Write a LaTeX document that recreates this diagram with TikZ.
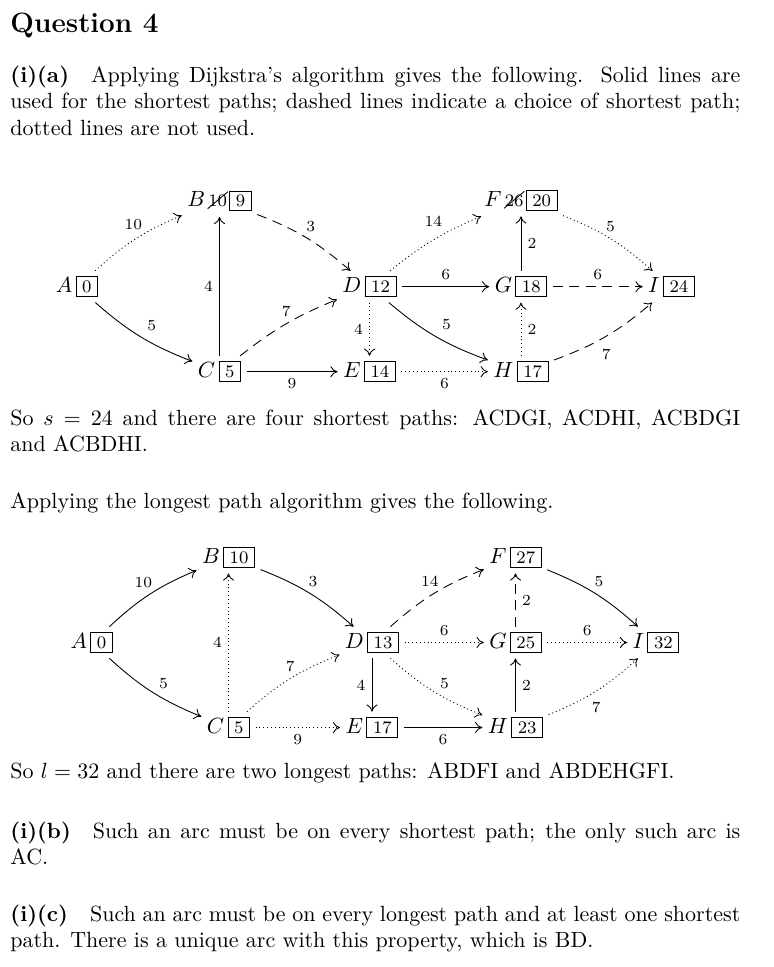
\documentclass[tikz,border=0pt]{standalone}
\usepackage{graphicx}
\usetikzlibrary{arrows.meta}
\newcommand\valbox[1]{{\setlength{\fboxsep}{0pt}\setlength{\fboxrule}{0.4pt}\fbox{\rule[-1.6pt]{0pt}{8.6pt}\hspace{2.6pt}\footnotesize #1\hspace{2.6pt}}}}
\newcommand\struck[1]{\ooalign{\hfil\footnotesize #1\hfil\cr\hfil\raisebox{-1pt}{\rotatebox{40}{\rule{12pt}{0.4pt}}}\hfil\cr}}
\tikzset{
  vtx/.style={inner sep=0pt, outer sep=2.5pt},
  arr/.style={-{To[length=3.3pt,width=5pt]}, line width=0.4pt},
  solidl/.style={arr},
  dashl/.style={arr, dash pattern=on 4.5pt off 3pt},
  dotl/.style={arr, dash pattern=on 0.45pt off 1.3pt},
  lab/.style={font=\scriptsize, inner sep=2.8pt},
  para/.style={anchor=north west, inner sep=0pt, text width=331.8pt, align=justify},
  line1/.style={anchor=base west, inner sep=0pt}
}
\begin{document}
\begin{tikzpicture}[x=0.454545pt, y=0.454545pt]
\useasboundingbox (0,0) rectangle (773,-967);
% ---------- text ----------
\node[line1] (title) at (10,-33) {\fontsize{12.7}{15}\selectfont\bfseries Question 4};
\node[para] (p1) at (10,-63.5) {\strut\textbf{(i)(a)}\quad Applying Dijkstra's algorithm gives the following. Solid lines are used for the shortest paths; dashed lines indicate a choice of shortest path; dotted lines are not used.};
\node[para] (p2) at (10,-406.5) {\strut So $s=24$ and there are four shortest paths: ACDGI, ACDHI, ACBDGI\linebreak and ACBDHI.};
\node[line1] (p3) at (10,-508) {Applying the longest path algorithm gives the following.};
\node[line1] (p4) at (10,-778) {So $l=32$ and there are two longest paths: ABDFI and ABDEHGFI.};
\node[para] (p5) at (10,-819.5) {\strut\textbf{(i)(b)}\quad Such an arc must be on every shortest path; the only such arc is AC.};
\node[para] (p6) at (10,-902.5) {\strut\textbf{(i)(c)}\quad Such an arc must be on every longest path and at least one shortest path. There is a unique arc with this property, which is BD.};
% ---------- diagram 1 ----------
\node[vtx] (A1) at (77,-286.7) {$A$\hspace{1.5pt}\valbox{0}};
\node[vtx] (B1) at (219.5,-201) {$B$\hspace{1pt}\struck{10}\hspace{0.5pt}\valbox{9}};
\node[vtx] (C1) at (219.5,-371.7) {$C$\hspace{1.5pt}\valbox{5}};
\node[vtx] (D1) at (369.5,-286.7) {$D$\hspace{1.5pt}\valbox{12}};
\node[vtx] (E1) at (369.5,-371.7) {$E$\hspace{1.5pt}\valbox{14}};
\node[vtx] (F1) at (521,-200.5) {$F$\hspace{1pt}\struck{26}\hspace{0.5pt}\valbox{20}};
\node[vtx] (G1) at (521,-286.7) {$G$\hspace{1.5pt}\valbox{18}};
\node[vtx] (H1) at (521,-371.7) {$H$\hspace{1.5pt}\valbox{17}};
\node[vtx] (I1) at (671.5,-286.7) {$I$\hspace{1.5pt}\valbox{24}};
\draw[dotl] (A1) to[bend left=10] node[lab, above, xshift=-1pt, yshift=1pt] (l1) {10} (B1);
\draw[solidl] (A1) to[bend right=10] node[lab, above right] (l2) {5} (C1);
\draw[solidl] (C1) -- node[lab, left] (l3) {4} (B1);
\draw[dashl] (B1) to[bend left=10] node[lab, above, xshift=1.8pt] (l4) {3} (D1);
\draw[dashl] (C1) to[bend left=8] node[lab, above] (l5) {7} (D1);
\draw[solidl] (C1) -- node[lab, below] (l6) {9} (E1);
\draw[dotl] (D1) -- node[lab, left] (l7) {4} (E1);
\draw[dotl] (D1) to[bend left=8] node[lab, above, yshift=3pt] (l8) {14} (F1);
\draw[solidl] (D1) -- node[lab, above] (l9) {6} (G1);
\draw[solidl] (D1) to[bend right=10] node[lab, above right] (l10) {5} (H1);
\draw[dotl] (E1) -- node[lab, below] (l11) {6} (H1);
\draw[solidl] (G1) -- node[lab, right] (l12) {2} (F1);
\draw[dotl] (H1) -- node[lab, right] (l13) {2} (G1);
\draw[dotl] (F1) to[bend left=10] node[lab, above] (l14) {5} (I1);
\draw[dashl] (G1) -- node[lab, above] (l15) {6} (I1);
\draw[dashl] (H1) to[bend right=10] node[lab, below, yshift=-2.8pt] (l16) {7} (I1);
% ---------- diagram 2 ----------
\node[vtx] (A2) at (91.7,-642.5) {$A$\hspace{1.5pt}\valbox{0}};
\node[vtx] (B2) at (228.5,-557.5) {$B$\hspace{1.5pt}\valbox{10}};
\node[vtx] (C2) at (228.5,-727.5) {$C$\hspace{1.5pt}\valbox{5}};
\node[vtx] (D2) at (372,-642.5) {$D$\hspace{1.5pt}\valbox{13}};
\node[vtx] (E2) at (372,-727.5) {$E$\hspace{1.5pt}\valbox{17}};
\node[vtx] (F2) at (515.5,-557.5) {$F$\hspace{1.5pt}\valbox{27}};
\node[vtx] (G2) at (515.5,-642.5) {$G$\hspace{1.5pt}\valbox{25}};
\node[vtx] (H2) at (515.5,-727.5) {$H$\hspace{1.5pt}\valbox{23}};
\node[vtx] (I2) at (656,-642.5) {$I$\hspace{1.5pt}\valbox{32}};
\draw[solidl] (A2) to[bend left=10] node[lab, above, xshift=-3pt] (m1) {10} (B2);
\draw[solidl] (A2) to[bend right=10] node[lab, above right, yshift=-1.5pt] (m2) {5} (C2);
\draw[dotl] (C2) -- node[lab, left] (m3) {4} (B2);
\draw[solidl] (B2) to[bend left=10] node[lab, above, xshift=1.4pt] (m4) {3} (D2);
\draw[dotl] (C2) to[bend left=10] node[lab, above] (m5) {7} (D2);
\draw[dotl] (C2) -- node[lab, below] (m6) {9} (E2);
\draw[solidl] (D2) -- node[lab, left] (m7) {4} (E2);
\draw[dashl] (D2) to[bend left=10] node[lab, above, xshift=-2pt] (m8) {14} (F2);
\draw[dotl] (D2) -- node[lab, above] (m9) {6} (G2);
\draw[dotl] (D2) to[bend right=10] node[lab, above right, yshift=-2pt] (m10) {5} (H2);
\draw[solidl] (E2) -- node[lab, below] (m11) {6} (H2);
\draw[dashl] (G2) -- node[lab, right] (m12) {2} (F2);
\draw[solidl] (H2) -- node[lab, right] (m13) {2} (G2);
\draw[solidl] (F2) to[bend left=10] node[lab, above, xshift=1.6pt] (m14) {5} (I2);
\draw[dotl] (G2) -- node[lab, above] (m15) {6} (I2);
\draw[dotl] (H2) to[bend right=10] node[lab, below, yshift=-1.8pt] (m16) {7} (I2);
\end{tikzpicture}
\end{document}
